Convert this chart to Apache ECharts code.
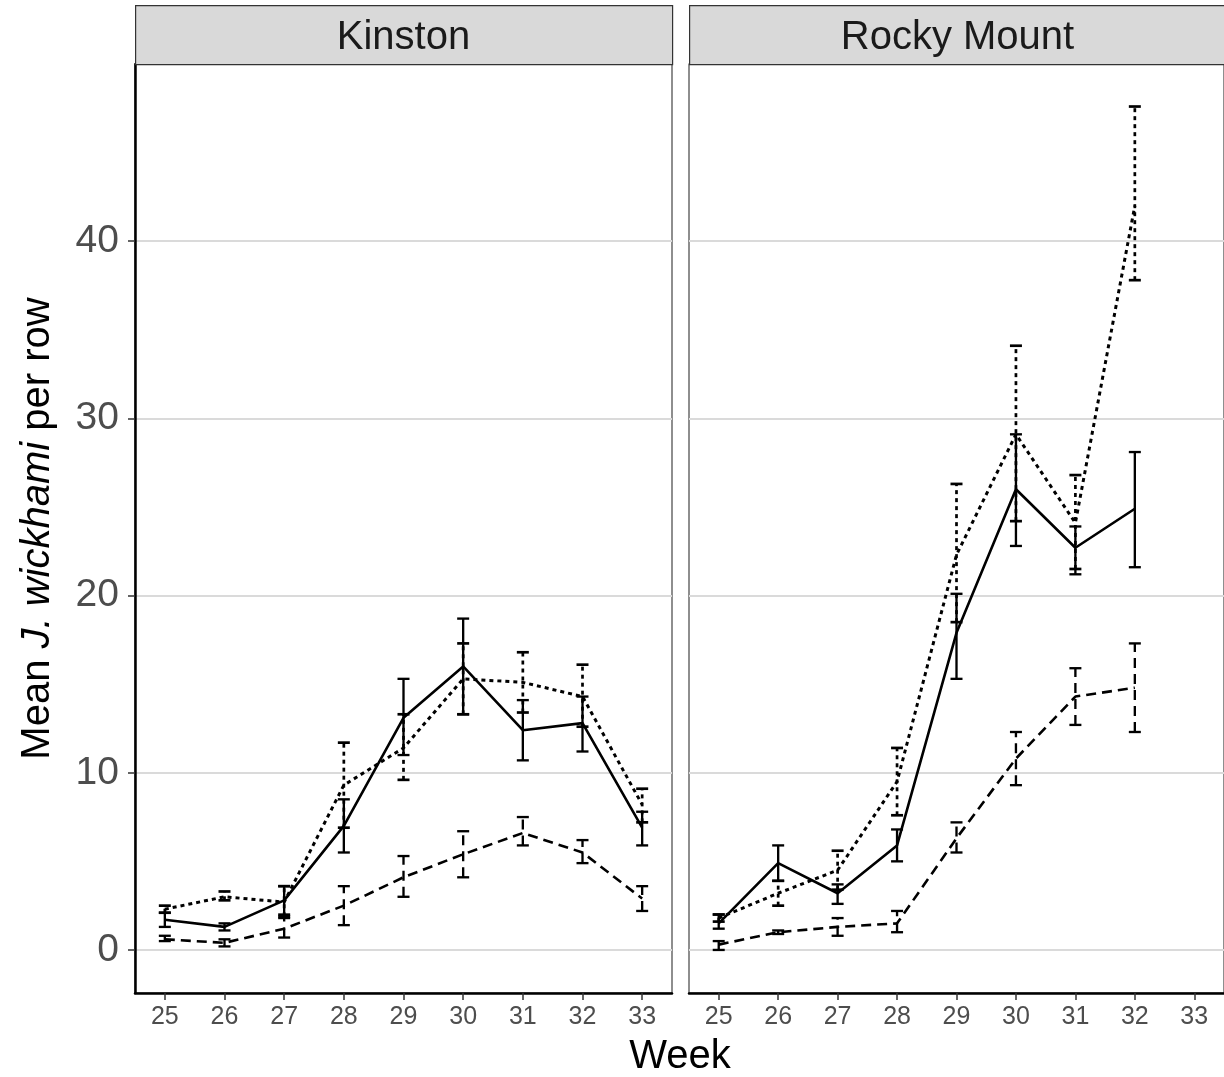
<!DOCTYPE html>
<html>
<head>
<meta charset="utf-8">
<script src="https://cdn.jsdelivr.net/npm/echarts@6/dist/echarts.min.js"></script>
<style>
html,body{margin:0;padding:0;background:#fff;}
#chart{width:1224px;height:1077px;}
</style>
</head>
<body>
<div id="chart"></div>
<script>
// ---- data ----
const weeks = ['25','26','27','28','29','30','31','32','33'];
const yTicks = [0, 10, 20, 30, 40];
const panels = ['Kinston', 'Rocky Mount'];

// Kinston
const kinSolidMean = [1.7, 1.3, 2.8, 7.0, 13.1, 16.0, 12.4, 12.8, 6.9];
const kinSolidLo   = [1.3, 1.1, 2.0, 5.5, 11.0, 13.3, 10.7, 11.2, 5.9];
const kinSolidHi   = [2.1, 1.5, 3.6, 8.5, 15.3, 18.7, 14.1, 14.3, 7.8];

const kinDotMean = [2.3, 3.0, 2.7, 9.3, 11.4, 15.3, 15.1, 14.3, 8.2];
const kinDotLo   = [2.1, 2.8, 1.9, 6.9, 9.6, 13.3, 13.4, 12.6, 7.2];
const kinDotHi   = [2.5, 3.3, 3.6, 11.7, 13.3, 17.3, 16.8, 16.1, 9.1];

const kinDashMean = [0.6, 0.4, 1.2, 2.5, 4.1, 5.4, 6.6, 5.5, 2.9];
const kinDashLo   = [0.5, 0.2, 0.7, 1.4, 3.0, 4.1, 5.9, 4.9, 2.2];
const kinDashHi   = [0.8, 0.6, 1.8, 3.6, 5.3, 6.7, 7.5, 6.2, 3.6];

// Rocky Mount (no week 33)
const rmSolidMean = [1.5, 4.9, 3.2, 5.9, 17.9, 26.0, 22.7, 24.9];
const rmSolidLo   = [1.2, 3.9, 2.6, 5.0, 15.3, 22.8, 21.2, 21.6];
const rmSolidHi   = [2.0, 5.9, 3.7, 6.8, 20.1, 29.1, 23.9, 28.1];

const rmDotMean = [1.8, 3.2, 4.5, 9.5, 22.3, 29.1, 24.1, 42.0];
const rmDotLo   = [1.6, 2.5, 3.4, 7.6, 18.5, 24.2, 21.5, 37.8];
const rmDotHi   = [2.0, 3.9, 5.6, 11.4, 26.3, 34.1, 26.8, 47.6];

const rmDashMean = [0.3, 1.0, 1.3, 1.5, 6.3, 10.8, 14.3, 14.8];
const rmDashLo   = [0.0, 0.9, 0.8, 1.0, 5.5, 9.3, 12.7, 12.3];
const rmDashHi   = [0.5, 1.1, 1.8, 2.2, 7.2, 12.3, 15.9, 17.3];

// ---- styles ----
const FONT = '"Liberation Sans", Arial, Helvetica, sans-serif';
const styles = {
  solid:  { type: 'solid', dash: null,    width: 2.6 },
  dotted: { type: [4, 4],  dash: [4, 4],  width: 3.0 },
  dashed: { type: [10, 6], dash: [10, 6], width: 2.6 }
};

function errRender(st) {
  return function (params, api) {
    const x = api.value(0);
    const p1 = api.coord([x, api.value(1)]);
    const p2 = api.coord([x, api.value(2)]);
    const w = 6;
    const style = { stroke: '#000', lineWidth: st.width * 0.9, lineDash: st.dash, fill: null };
    const capStyle = { stroke: '#000', lineWidth: st.width * 0.9, fill: null };
    return {
      type: 'group',
      children: [
        { type: 'line', shape: { x1: p1[0], y1: p1[1], x2: p2[0], y2: p2[1] }, style: style },
        { type: 'line', shape: { x1: p1[0] - w, y1: p1[1], x2: p1[0] + w, y2: p1[1] }, style: capStyle },
        { type: 'line', shape: { x1: p2[0] - w, y1: p2[1], x2: p2[0] + w, y2: p2[1] }, style: capStyle }
      ]
    };
  };
}

function makeSeries(gi, key, mean, lo, hi) {
  const st = styles[key];
  return [
    {
      type: 'line', xAxisIndex: gi, yAxisIndex: gi,
      data: mean, symbol: 'none', silent: true, z: 3,
      lineStyle: { color: '#000', width: st.width, type: st.type }
    },
    {
      type: 'custom', xAxisIndex: gi, yAxisIndex: gi, z: 4, silent: true,
      data: lo.map((v, i) => [i, v, hi[i]]),
      encode: { x: 0, y: [1, 2] },
      renderItem: errRender(st)
    }
  ];
}

const grids = [
  { left: 135, top: 64, width: 537, height: 929 },
  { left: 689, top: 64, width: 537, height: 929 }
];

function xAxis(gi) {
  return {
    type: 'category', gridIndex: gi, data: weeks, boundaryGap: true,
    axisLine: { show: true, onZero: false, lineStyle: { color: '#000', width: 2.5 } },
    axisTick: { show: true, alignWithLabel: true, length: 7, lineStyle: { color: '#333', width: 1.5 } },
    axisLabel: { color: '#4d4d4d', fontSize: 25, fontFamily: FONT, margin: 12 },
    splitLine: { show: false }
  };
}
function yAxis(gi) {
  const first = gi === 0;
  return {
    type: 'value', gridIndex: gi, min: -2.43, max: 50,
    axisLine: { show: first, onZero: false, lineStyle: { color: '#000', width: 2.5 } },
    axisTick: { show: first, customValues: yTicks, length: 7, lineStyle: { color: '#333', width: 1.5 } },
    axisLabel: { show: first, customValues: yTicks, color: '#4d4d4d', fontSize: 39, fontFamily: FONT, margin: 16 },
    splitLine: { show: true, lineStyle: { color: '#dadada', width: 2 } },
    name: first ? '{n|Mean }{i|J. wickhami}{n| per row}' : '',
    nameLocation: 'middle', nameRotate: 90, nameGap: 77,
    nameTextStyle: {
      rich: {
        n: { fontSize: 40, fontFamily: FONT, color: '#000' },
        i: { fontSize: 40, fontFamily: FONT, color: '#000', fontStyle: 'italic' }
      }
    }
  };
}

const graphics = [];
panels.forEach((name, gi) => {
  const g = grids[gi];
  graphics.push({
    type: 'rect', left: g.left, top: 5, z: 10,
    shape: { width: g.width, height: 59 },
    style: { fill: '#d9d9d9', stroke: '#333', lineWidth: 1.2 }
  });
  graphics.push({
    type: 'text', z: 11,
    x: g.left + g.width / 2, y: 38,
    style: { text: name, fill: '#1a1a1a', font: '40px ' + FONT, textAlign: 'center', textVerticalAlign: 'middle' }
  });
});
graphics.push({
  type: 'text', x: 680, y: 1057,
  style: { text: 'Week', fill: '#000', font: '40px ' + FONT, textAlign: 'center', textVerticalAlign: 'middle' }
});

const series = [].concat(
  makeSeries(0, 'solid', kinSolidMean, kinSolidLo, kinSolidHi),
  makeSeries(0, 'dotted', kinDotMean, kinDotLo, kinDotHi),
  makeSeries(0, 'dashed', kinDashMean, kinDashLo, kinDashHi),
  makeSeries(1, 'solid', rmSolidMean, rmSolidLo, rmSolidHi),
  makeSeries(1, 'dotted', rmDotMean, rmDotLo, rmDotHi),
  makeSeries(1, 'dashed', rmDashMean, rmDashLo, rmDashHi)
);

const chart = echarts.init(document.getElementById('chart'), null, { renderer: 'canvas' });
chart.setOption({
  animation: false,
  backgroundColor: '#fff',
  grid: grids.map(g => Object.assign({ show: true, borderColor: '#444', borderWidth: 1.2, backgroundColor: '#fff' }, g)),
  xAxis: [xAxis(0), xAxis(1)],
  yAxis: [yAxis(0), yAxis(1)],
  series: series,
  graphic: graphics
});
</script>
</body>
</html>
